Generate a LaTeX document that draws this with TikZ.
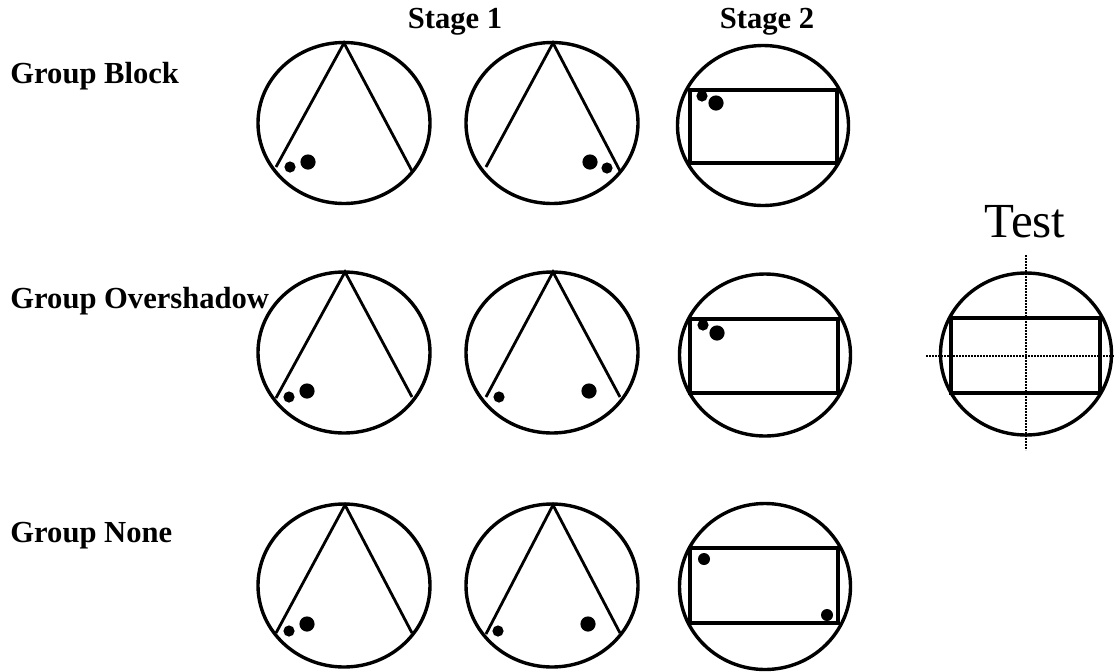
\documentclass[tikz,border=0pt]{standalone}
\usepackage{fontspec}
\setmainfont{Liberation Serif}
\usepackage{tikz}
\usepackage{xcolor}

\begin{document}
\begin{tikzpicture}[x=0.5pt,y=-0.5pt,
  rim/.style={line width=1.7pt},
  arm/.style={line width=1.4pt},
  frame/.style={line width=1.6pt},
  axis/.style={line width=0.9pt,dash pattern=on 0.8pt off 0.7pt},
  head/.style={font=\bfseries\fontsize{15.3}{18}\selectfont,inner sep=0pt,anchor=base},
  grp/.style={font=\bfseries\fontsize{15.3}{18}\selectfont,inner sep=0pt,anchor=base west}]
\useasboundingbox (0,0) rectangle (1115,671);
\node[head] (stageone) at (455,28) {Stage 1};
\node[head] (stagetwo) at (767,28) {Stage 2};
\node[grp] (grpblock) at (10,83) {Group Block};
\node[grp] (grpover) at (10,308) {Group Overshadow};
\node[grp] (grpnone) at (10,542) {Group None};
\node[font=\fontsize{24.5}{28}\selectfont,inner sep=0pt,anchor=base] (testlbl) at (1025,237) {Test};
\draw[rim] (344,123) ellipse [x radius=43pt, y radius=40.25pt];
\draw[arm] (276,167) -- (344,43) -- (412,171);
\fill (290,167) circle (2.8pt);
\fill (308,162) circle (3.8pt);
\draw[rim] (552,123) ellipse [x radius=43pt, y radius=40.25pt];
\draw[arm] (486,167) -- (553,43) -- (620,171);
\fill (590,162) circle (3.8pt);
\fill (607,168) circle (2.8pt);
\draw[rim] (763,125.5) ellipse [x radius=42.75pt, y radius=40pt];
\draw[frame] (690,90) rectangle (837,163);
\fill (702,96) circle (2.8pt);
\fill (716,103) circle (3.8pt);
\draw[rim] (344,352.5) ellipse [x radius=43pt, y radius=40.25pt];
\draw[arm] (276,398) -- (345,272) -- (412,397);
\fill (289,397) circle (2.8pt);
\fill (307,391) circle (3.8pt);
\draw[rim] (552,352.5) ellipse [x radius=43pt, y radius=40.25pt];
\draw[arm] (486,397) -- (553,272) -- (620,397);
\fill (499,397) circle (2.8pt);
\fill (589,391) circle (3.8pt);
\draw[rim] (765,355) ellipse [x radius=42.75pt, y radius=40.5pt];
\draw[frame] (690,319) rectangle (838,393);
\fill (703,325) circle (2.8pt);
\fill (717,333) circle (3.8pt);
\draw[rim] (344,585.5) ellipse [x radius=43pt, y radius=40.75pt];
\draw[arm] (276,633) -- (345,505) -- (412,633);
\fill (289,631) circle (2.8pt);
\fill (307,624) circle (3.8pt);
\draw[rim] (552,585.5) ellipse [x radius=43pt, y radius=40.75pt];
\draw[arm] (486,634) -- (553,505) -- (620,633);
\fill (498,631) circle (2.8pt);
\fill (588,624) circle (3.8pt);
\draw[rim] (765,586.5) ellipse [x radius=42.75pt, y radius=41.5pt];
\draw[frame] (690,548) rectangle (838,623);
\fill (704,559) circle (3pt);
\fill (827,615) circle (3pt);
\draw[rim] (1026,354) ellipse [x radius=42.75pt, y radius=40.5pt];
\draw[frame] (951,318) rectangle (1100,393);
\draw[axis] (1026,255) -- (1026,450);
\draw[axis] (926,356) -- (1115,356);
\end{tikzpicture}
\end{document}
